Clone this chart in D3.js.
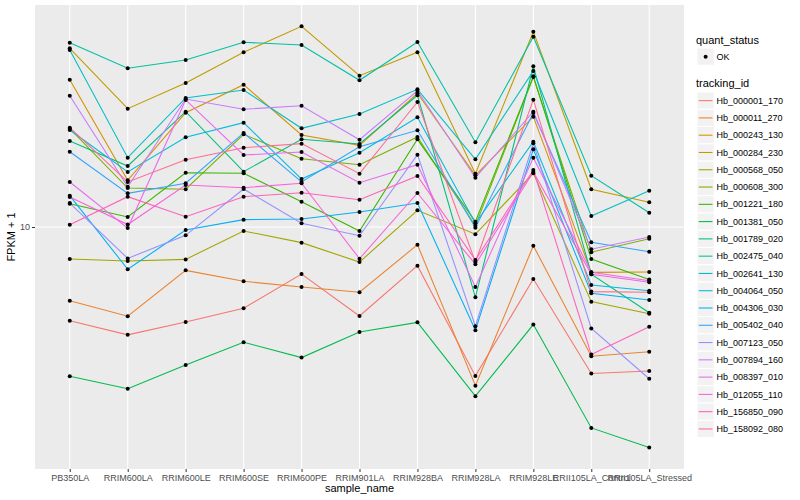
<!DOCTYPE html>
<meta charset="utf-8">
<style>
body { margin: 0; background: #fff; }
text { font-family: "Liberation Sans", Arial, sans-serif; }
.tick text { fill: #4d4d4d; font-size: 9px; }
.tick line { stroke: #333; }
.axis path { display: none; }
</style>
<svg width="800" height="500"></svg>
<script src="https://d3js.org/d3.v7.min.js"></script>
<script>
var samples = ["PB350LA", "RRIM600LA", "RRIM600LE", "RRIM600SE", "RRIM600PE", "RRIM901LA",
  "RRIM928BA", "RRIM928LA", "RRIM928LE", "RRII105LA_Control", "RRII105LA_Stressed"];

var trackingIds = ["Hb_000001_170", "Hb_000011_270", "Hb_000243_130", "Hb_000284_230", "Hb_000568_050",
  "Hb_000608_300", "Hb_001221_180", "Hb_001381_050", "Hb_001789_020", "Hb_002475_040",
  "Hb_002641_130", "Hb_004064_050", "Hb_004306_030", "Hb_005402_040", "Hb_007123_050",
  "Hb_007894_160", "Hb_008397_010", "Hb_012055_110", "Hb_156850_090", "Hb_158092_080"];

// FPKM + 1, one row per tracking id, one column per sample
var fpkm = [
  [4.87, 4.37, 4.82, 5.36, 6.97, 5.05, 7.43, 3.19, 6.71, 3.25, 3.31],
  [5.68, 5.04, 7.17, 6.59, 6.31, 6.06, 8.73, 2.96, 8.66, 3.71, 3.84],
  [30.97, 14.31, 24.04, 29.81, 20.26, 18.72, 27.91, 14.87, 23.32, 7.06, 7.08],
  [39.42, 24.79, 30.20, 38.22, 46.67, 31.94, 38.22, 15.06, 44.77, 13.36, 12.09],
  [7.82, 7.70, 7.80, 9.70, 8.87, 7.64, 11.37, 9.46, 15.10, 5.64, 5.14],
  [21.27, 13.49, 13.36, 20.37, 16.89, 16.13, 19.95, 10.10, 31.62, 8.24, 9.14],
  [11.96, 10.80, 15.17, 15.10, 12.14, 9.70, 19.60, 10.42, 31.79, 7.82, 6.69],
  [3.18, 2.89, 3.47, 4.13, 3.67, 4.47, 4.81, 2.73, 4.73, 2.14, 1.84],
  [19.35, 15.97, 24.23, 15.29, 19.60, 18.91, 27.48, 5.83, 34.34, 6.96, 5.18],
  [41.15, 33.81, 36.04, 41.28, 40.43, 30.83, 41.37, 19.16, 43.08, 14.83, 11.16],
  [38.90, 17.02, 26.92, 28.62, 21.33, 23.81, 28.77, 16.82, 33.11, 10.88, 13.21],
  [21.05, 15.26, 19.91, 22.27, 14.45, 17.69, 23.21, 10.29, 19.25, 6.41, 6.13],
  [12.72, 7.23, 9.77, 10.58, 10.63, 11.22, 12.02, 4.53, 18.16, 6.01, 5.71],
  [17.82, 12.95, 13.99, 20.58, 14.13, 18.52, 21.01, 9.95, 23.99, 8.89, 8.27],
  [12.02, 7.86, 9.38, 13.39, 10.29, 9.35, 17.42, 4.67, 19.01, 4.59, 3.12],
  [27.40, 13.62, 26.71, 24.68, 25.37, 19.54, 28.46, 14.60, 24.23, 8.43, 9.26],
  [14.13, 9.92, 26.51, 17.38, 17.78, 14.05, 16.13, 6.31, 17.02, 7.06, 6.62],
  [12.59, 10.19, 13.80, 13.52, 13.99, 7.84, 12.98, 7.51, 15.26, 6.96, 6.54],
  [10.18, 12.62, 10.82, 12.62, 13.01, 12.33, 14.79, 7.76, 15.49, 3.76, 4.65],
  [21.43, 14.13, 16.76, 18.38, 18.96, 15.06, 26.10, 7.64, 26.57, 6.09, 6.06]
];

var yTicks = [10];
var quantStatus = ["OK"];

var palette = ["#F8766D", "#EA8331", "#D89000", "#C09B00", "#A3A500", "#7CAE00", "#39B600",
  "#00BB4E", "#00BF7D", "#00C1A3", "#00BFC4", "#00BAE0", "#00B0F6", "#35A2FF", "#9590FF",
  "#C77CFF", "#E76BF3", "#FA62DB", "#FF62BC", "#FF6C91"];

var svg = d3.select("svg"),
    panel = {left: 35, right: 684, top: 5, bottom: 469};

var x = d3.scalePoint().domain(samples).range([panel.left, panel.right]).padding(0.6),
    y = d3.scaleLog().domain([1.561, 54.95]).range([panel.bottom, panel.top]),
    colour = d3.scaleOrdinal().domain(trackingIds).range(palette);

svg.append("rect")
    .attr("x", panel.left).attr("y", panel.top)
    .attr("width", panel.right - panel.left).attr("height", panel.bottom - panel.top)
    .attr("fill", "#ebebeb");

// grid
svg.append("g").selectAll("line")
  .data(samples)
  .enter().append("line")
    .attr("x1", function(d) { return x(d); }).attr("x2", function(d) { return x(d); })
    .attr("y1", panel.top).attr("y2", panel.bottom)
    .attr("stroke", "#fff").attr("stroke-width", 1.1);

svg.append("g").selectAll("line")
  .data(yTicks)
  .enter().append("line")
    .attr("x1", panel.left).attr("x2", panel.right)
    .attr("y1", function(d) { return y(d); }).attr("y2", function(d) { return y(d); })
    .attr("stroke", "#fff").attr("stroke-width", 1.1);

// axes
svg.append("g")
    .attr("class", "axis")
    .attr("transform", "translate(0," + panel.bottom + ")")
    .call(d3.axisBottom(x).tickSize(3).tickPadding(3));

svg.append("g")
    .attr("class", "axis")
    .attr("transform", "translate(" + panel.left + ",0)")
    .call(d3.axisLeft(y).tickValues(yTicks).tickFormat(d3.format("d")).tickSize(3).tickPadding(2));

svg.append("text")
    .attr("x", (panel.left + panel.right) / 2).attr("y", 492)
    .attr("text-anchor", "middle").attr("font-size", 11)
    .text("sample_name");

svg.append("text")
    .attr("transform", "translate(15," + ((panel.top + panel.bottom) / 2) + ") rotate(-90)")
    .attr("text-anchor", "middle").attr("font-size", 11)
    .text("FPKM + 1");

// lines and points
var series = trackingIds.map(function(id, i) {
  return {id: id, values: samples.map(function(s, j) { return {sample: s, value: fpkm[i][j]}; })};
});

var line = d3.line()
    .x(function(d) { return x(d.sample); })
    .y(function(d) { return y(d.value); });

svg.append("g").selectAll("path")
  .data(series)
  .enter().append("path")
    .attr("d", function(d) { return line(d.values); })
    .attr("fill", "none")
    .attr("stroke", function(d) { return colour(d.id); })
    .attr("stroke-width", 1.07);

svg.append("g").selectAll("circle")
  .data(d3.merge(series.map(function(d) { return d.values; })))
  .enter().append("circle")
    .attr("cx", function(d) { return x(d.sample); })
    .attr("cy", function(d) { return y(d.value); })
    .attr("r", 2)
    .attr("fill", "#000");

// legend
var legend = svg.append("g");

legend.append("text").attr("x", 696).attr("y", 44).attr("font-size", 11).text("quant_status");

var qs = legend.selectAll(".qs")
  .data(quantStatus)
  .enter().append("g")
    .attr("transform", function(d, i) { return "translate(697," + (48 + i * 17.28) + ")"; });
qs.append("rect").attr("width", 17.28).attr("height", 17.28).attr("fill", "#f2f2f2").attr("stroke", "#fff");
qs.append("circle").attr("cx", 8.64).attr("cy", 8.64).attr("r", 2).attr("fill", "#000");
qs.append("text").attr("x", 19.5).attr("y", 8.64).attr("dy", "0.35em").attr("font-size", 9).text(function(d) { return d; });

legend.append("text").attr("x", 696).attr("y", 87).attr("font-size", 11).text("tracking_id");

var keys = legend.selectAll(".key")
  .data(trackingIds)
  .enter().append("g")
    .attr("transform", function(d, i) { return "translate(697," + (92 + i * 17.28) + ")"; });
keys.append("rect").attr("width", 17.28).attr("height", 17.28).attr("fill", "#f2f2f2").attr("stroke", "#fff");
keys.append("line")
    .attr("x1", 1.7).attr("x2", 15.5).attr("y1", 8.64).attr("y2", 8.64)
    .attr("stroke", function(d) { return colour(d); }).attr("stroke-width", 1.07);
keys.append("text").attr("x", 19.5).attr("y", 8.64).attr("dy", "0.35em").attr("font-size", 9).text(function(d) { return d; });
</script>
